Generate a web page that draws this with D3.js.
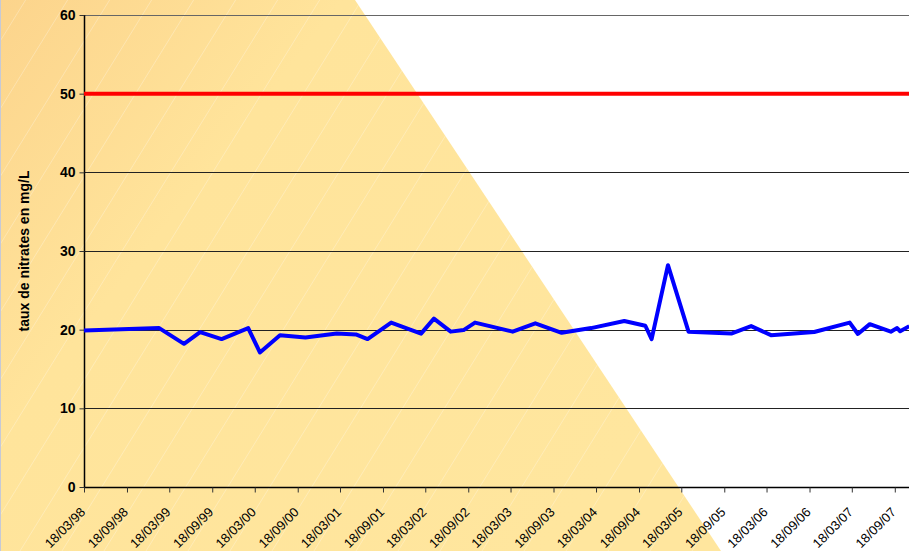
<!DOCTYPE html>
<html>
<head>
<meta charset="utf-8">
<script src="https://cdn.jsdelivr.net/npm/d3@7"></script>
<style>
  body { margin: 0; overflow: hidden; background: #fff; }
  svg { display: block; font-family: Arial, "Liberation Sans", sans-serif; }
</style>
</head>
<body>
<div id="container"></div>
<script>
/* CONSTANTS AND GLOBALS */
const width = 909;
const height = 551;
const margin = { top: 15, left: 84, bottom: 64 };

// sampling dates and nitrate values (mg/L)
const dates = [
  "1998-03-18", "1999-02-03", "1999-05-20", "1999-07-28", "1999-10-28",
  "2000-02-19", "2000-04-09", "2000-07-04", "2000-10-21", "2001-03-04",
  "2001-05-25", "2001-07-14", "2001-10-23", "2002-02-28", "2002-04-24",
  "2002-07-05", "2002-08-29", "2002-10-17", "2003-03-27", "2003-07-02",
  "2003-10-23", "2004-02-26", "2004-07-17", "2004-10-15", "2004-11-11",
  "2005-01-20", "2005-04-18", "2005-10-18", "2006-01-11", "2006-04-06",
  "2006-10-08", "2007-03-09", "2007-04-13", "2007-06-03", "2007-09-01",
  "2007-09-28", "2007-10-11", "2007-11-19"
];
const nitrates = [
  19.9, 20.2, 18.2, 19.7, 18.8,
  20.2, 17.1, 19.3, 19.0, 19.5,
  19.4, 18.8, 20.9, 19.5, 21.4,
  19.75, 19.95, 20.9, 19.75, 20.8,
  19.6, 20.2, 21.1, 20.5, 18.8,
  28.2, 19.75, 19.5, 20.45, 19.3,
  19.7, 20.9, 19.45, 20.7, 19.75,
  20.2, 19.8, 20.45
];
const limit = 50;
const yTicks = [0, 10, 20, 30, 40, 50, 60];
const axisStart = "1998-03-18";
const axisEnd = "2008-03-18";

const parse = d3.timeParse("%Y-%m-%d");
const data = dates.map((d, i) => ({ date: parse(d), value: nitrates[i] }));

const svg = d3.select("#container")
  .append("svg")
  .attr("width", width)
  .attr("height", height);

/* BACKGROUND */
const defs = svg.append("defs");
const grad = defs.append("linearGradient")
  .attr("id", "bg")
  .attr("x1", 0).attr("y1", 0).attr("x2", 1).attr("y2", 0.6);
grad.append("stop").attr("offset", "0%").attr("stop-color", "#fcd48c");
grad.append("stop").attr("offset", "35%").attr("stop-color", "#ffe49b");
grad.append("stop").attr("offset", "100%").attr("stop-color", "#ffe69e");

defs.append("clipPath").attr("id", "tri")
  .append("polygon")
  .attr("points", `0,0 355,0 721,${height} 0,${height}`);

svg.append("polygon")
  .attr("points", `0,0 355,0 721,${height} 0,${height}`)
  .attr("fill", "url(#bg)");

// faint diagonal hatch lines
const hatch = svg.append("g").attr("clip-path", "url(#tri)");
d3.range(-400, 900, 42).forEach(x0 => {
  hatch.append("line")
    .attr("x1", x0).attr("y1", height)
    .attr("x2", x0 + height * 0.62).attr("y2", 0)
    .attr("stroke", "#ffffff")
    .attr("stroke-opacity", 0.35)
    .attr("stroke-width", 0.8);
});

svg.append("line")
  .attr("x1", 0.5).attr("x2", 0.5).attr("y1", 0).attr("y2", height)
  .attr("stroke", "#c6c9d6").attr("stroke-width", 1);

/* SCALES */
const xScale = d3.scaleTime()
  .domain([parse(axisStart), parse(axisEnd)])
  .range([margin.left, margin.left + 853.3]);

const yScale = d3.scaleLinear()
  .domain([0, 60])
  .range([height - margin.bottom, margin.top]);

/* GRID */
svg.append("g")
  .selectAll("line")
  .data(yTicks.filter(d => d > 0))
  .join("line")
  .attr("x1", margin.left)
  .attr("x2", width)
  .attr("y1", d => Math.round(yScale(d)) + 0.5)
  .attr("y2", d => Math.round(yScale(d)) + 0.5)
  .attr("stroke", d => d === 60 ? "#666" : "#222")
  .attr("stroke-width", 1);

/* AXES */
const xTickDates = d3.range(0, 20).map(i => d3.timeMonth.offset(parse(axisStart), i * 6));
const xAxis = d3.axisBottom(xScale)
  .tickValues(xTickDates)
  .tickFormat(d3.timeFormat("%d/%m/%y"))
  .tickSize(5);

const gx = svg.append("g")
  .attr("transform", `translate(0, ${Math.round(yScale(0)) + 0.5})`)
  .call(xAxis);
gx.select(".domain").attr("stroke", "#000").attr("stroke-width", 1.5)
  .attr("d", `M${margin.left},0H${width}`);
gx.selectAll(".tick line").attr("stroke", "#333");
gx.selectAll(".tick text")
  .attr("font-size", 13)
  .attr("fill", "#000")
  .attr("text-anchor", "end")
  .attr("y", 0)
  .attr("dy", 0)
  .attr("transform", "translate(1.5, 25.5) rotate(-45)");

const yAxis = d3.axisLeft(yScale)
  .tickValues(yTicks)
  .tickSize(5)
  .tickPadding(4);

const gy = svg.append("g")
  .attr("transform", `translate(${margin.left + 0.5}, 0)`)
  .call(yAxis);
gy.select(".domain").attr("stroke", "#000").attr("stroke-width", 1.5)
  .attr("d", `M0,${margin.top}V${yScale(0)}`);
gy.selectAll(".tick line").attr("stroke", "#333");
gy.selectAll(".tick text")
  .attr("font-size", 14)
  .attr("font-weight", "bold")
  .attr("fill", "#000");

svg.append("text")
  .attr("transform", `translate(29, 251) rotate(-90)`)
  .attr("text-anchor", "middle")
  .attr("font-size", 14)
  .attr("font-weight", "bold")
  .text("taux de nitrates en mg/L");

/* LIMIT LINE */
svg.append("line")
  .attr("x1", margin.left)
  .attr("x2", xScale(parse(axisEnd)))
  .attr("y1", yScale(limit))
  .attr("y2", yScale(limit))
  .attr("stroke", "#ff0000")
  .attr("stroke-width", 4);

/* DATA LINE */
const line = d3.line()
  .x(d => xScale(d.date))
  .y(d => yScale(d.value));

svg.append("path")
  .datum(data)
  .attr("d", line)
  .attr("fill", "none")
  .attr("stroke", "#0000ff")
  .attr("stroke-width", 4)
  .attr("stroke-linejoin", "round");
</script>
</body>
</html>
